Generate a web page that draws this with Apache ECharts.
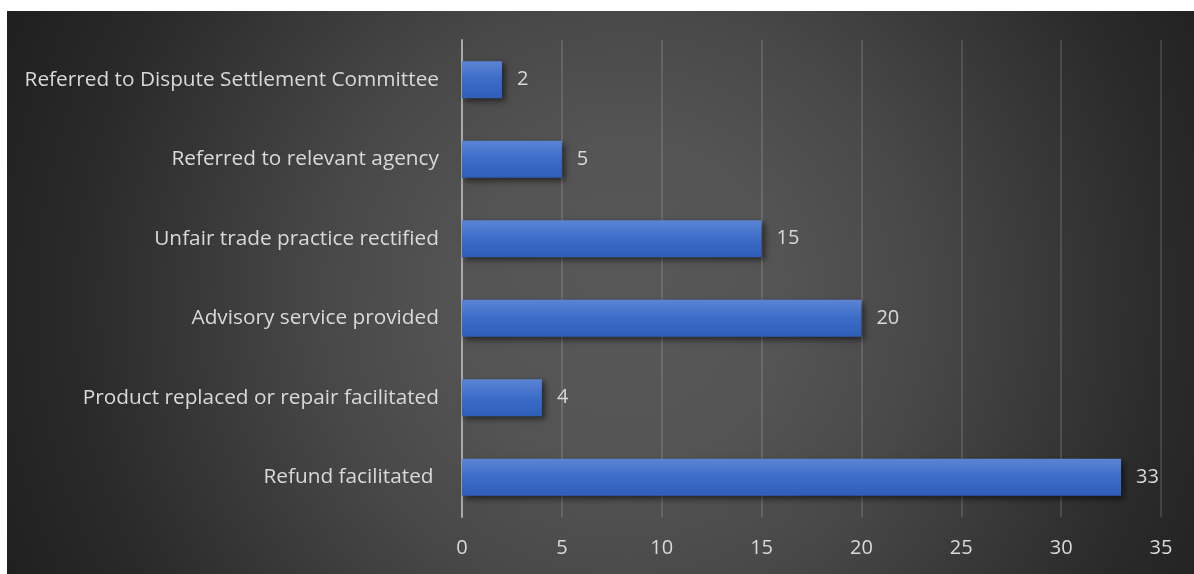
<!DOCTYPE html>
<html>
<head>
<meta charset="utf-8">
<script src="https://cdn.jsdelivr.net/npm/echarts@6/dist/echarts.min.js"></script>
<style>
  html, body { margin: 0; padding: 0; background: #ffffff; }
  #panel {
    position: absolute; left: 7px; top: 11px; width: 1187px; height: 563px;
    background: radial-gradient(circle farthest-corner at 52% 52%,
      #585858 0%, #545454 24%, #484848 44%, #383838 63%, #2a2a2a 80%, #1f1f1f 100%);
  }
  #chart { position: absolute; left: 0; top: 0; width: 1194px; height: 574px; }
</style>
</head>
<body>
<div id="panel"></div>
<div id="chart"></div>
<script>
// Complaint outcomes, listed bottom to top as on the category axis
const categories = [
  'Refund facilitated ',
  'Product replaced or repair facilitated',
  'Advisory service provided',
  'Unfair trade practice rectified',
  'Referred to relevant agency',
  'Referred to Dispute Settlement Committee'
];
const counts = [33, 4, 20, 15, 5, 2];
const axisMin = 0;
const axisMax = 35;
const axisStep = 5;

const FONT = '"Open Sans", "Noto Sans", sans-serif';
const TEXT = '#d9d9d9';

const chart = echarts.init(document.getElementById('chart'), null, { renderer: 'canvas' });
chart.setOption({
  backgroundColor: 'transparent',
  animation: false,
  grid: { left: 462, right: 33, top: 40, bottom: 57, containLabel: false },
  xAxis: {
    type: 'value',
    min: axisMin,
    max: axisMax,
    interval: axisStep,
    axisLine: { show: false },
    axisTick: { show: false },
    axisLabel: { color: TEXT, fontFamily: FONT, fontSize: 20, margin: 21 },
    splitLine: { show: true, lineStyle: { color: 'rgba(255,255,255,0.13)', width: 2 } }
  },
  yAxis: {
    type: 'category',
    data: categories,
    axisLine: { show: true, lineStyle: { color: '#a9a9a9', width: 2 } },
    axisTick: { show: false },
    axisLabel: { color: TEXT, fontFamily: FONT, fontSize: 20.8, margin: 23 },
    splitLine: { show: false }
  },
  series: [{
    type: 'bar',
    data: counts,
    barWidth: 37,
    itemStyle: {
      color: new echarts.graphic.LinearGradient(0, 0, 0, 1, [
        { offset: 0, color: '#5c84d4' },
        { offset: 0.5, color: '#3c6cc8' },
        { offset: 1, color: '#2f5eb8' }
      ]),
      shadowColor: 'rgba(0,0,0,0.55)',
      shadowBlur: 6,
      shadowOffsetX: 3,
      shadowOffsetY: 3
    },
    label: {
      show: true,
      position: 'right',
      distance: 15,
      color: TEXT,
      fontFamily: FONT,
      fontSize: 20
    }
  }]
});
</script>
</body>
</html>
